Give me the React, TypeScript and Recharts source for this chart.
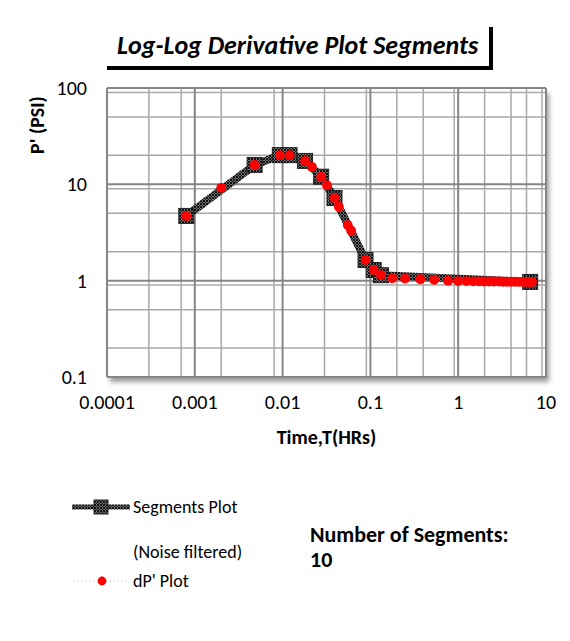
import { ScatterChart, Scatter, XAxis, YAxis, CartesianGrid } from 'recharts';

// segment nodes (noise filtered)
const segTime = [0.0008, 0.0048, 0.0093, 0.012, 0.018, 0.0275, 0.039, 0.088, 0.109, 0.132, 6.6];
const segDp = [4.7, 15.9, 20.1, 20.1, 17.5, 12.0, 7.2, 1.64, 1.29, 1.14, 0.97];

// dP' points
const dpTime = [0.0008, 0.002, 0.0048, 0.0093, 0.012, 0.018, 0.0215, 0.0275, 0.032, 0.039, 0.0437, 0.0552, 0.0604, 0.088, 0.109, 0.132, 0.177, 0.248, 0.37, 0.533, 0.764, 1.0, 1.24, 1.49, 1.73, 1.97, 2.25, 2.56, 2.92, 3.24, 3.6, 4.0, 4.44, 4.93, 5.48, 6.08, 6.58, 6.93];
const dpVal = [4.7, 9.2, 15.9, 20.1, 20.1, 17.5, 15.2, 12.0, 9.8, 7.2, 5.85, 3.78, 3.3, 1.64, 1.29, 1.14, 1.06, 1.05, 1.035, 1.02, 1.0, 0.99, 0.99, 0.985, 0.985, 0.98, 0.98, 0.98, 0.98, 0.975, 0.975, 0.975, 0.975, 0.97, 0.97, 0.97, 0.97, 0.97];

const xTicks = [0.0001, 0.001, 0.01, 0.1, 1, 10];
const xTickLabels = ['0.0001', '0.001', '0.01', '0.1', '1', '10'];
const yTicks = [0.1, 1, 10, 100];
const yTickLabels = ['0.1', '1', '10', '100'];
const minorSteps = [2, 3, 4, 5, 6, 7, 8, 9];

const xMinor = xTicks.slice(0, -1).flatMap((d) => minorSteps.map((m) => m * d));
const yMinor = yTicks.slice(0, -1).flatMap((d) => minorSteps.map((m) => m * d));

const segData = segTime.map((t, i) => ({ t, p: segDp[i] }));
const dpData = dpTime.map((t, i) => ({ t, p: dpVal[i] }));

const FONT = 'Carlito, Calibri, Lato, sans-serif';

const SquareDot = (props: any) => {
  const { cx, cy } = props;
  if (cx == null || cy == null) return null;
  return <rect x={cx - 7.5} y={cy - 7.5} width={15} height={15} fill="url(#hatch)" stroke="#222" strokeWidth={1} />;
};

const RedDot = (props: any) => {
  const { cx, cy } = props;
  if (cx == null || cy == null) return null;
  return <circle cx={cx} cy={cy} r={4.9} fill="#ff0000" />;
};

const txt = { position: 'absolute' as const, color: '#000', whiteSpace: 'nowrap' as const };

export default function App() {
  return (
    <div style={{ position: 'absolute', left: 0, top: 0, width: 570, height: 641, background: '#fff', fontFamily: FONT }}>
      {/* title box */}
      <div style={{ position: 'absolute', left: 107, top: 27, width: 382, height: 39, borderBottom: '4px solid #000', borderRight: '4px solid #000' }} />
      <div style={{ ...txt, left: 117, top: 29, fontSize: 26, lineHeight: '32px', fontWeight: 700, fontStyle: 'italic' }}>
        Log-Log Derivative Plot Segments
      </div>

      {/* plot area shadow */}
      <div style={{ position: 'absolute', left: 107, top: 88, width: 439, height: 289, background: '#fff', boxShadow: '3px 5px 5px rgba(0,0,0,0.4)' }} />

      <div style={{ position: 'absolute', left: 0, top: 0 }}>
        <ScatterChart width={570} height={460} margin={{ top: 88, right: 24, left: 0, bottom: 0 }}>
          <defs>
            <pattern id="hatch" width={3} height={3} patternUnits="userSpaceOnUse">
              <rect width={3} height={3} fill="#707070" />
              <path d="M0,0 L3,3 M3,0 L0,3" stroke="#111" strokeWidth={1} />
            </pattern>
          </defs>
          <CartesianGrid stroke="#a9a9a9" strokeWidth={1.5} verticalValues={xMinor} horizontalValues={yMinor} />
          <CartesianGrid stroke="#858585" strokeWidth={2} verticalValues={xTicks} horizontalValues={yTicks} />
          <XAxis
            dataKey="t"
            type="number"
            scale="log"
            domain={[0.0001, 10]}
            ticks={xTicks}
            tickFormatter={(v, i) => xTickLabels[i] ?? String(v)}
            allowDataOverflow
            axisLine={false}
            tickLine={false}
            tickSize={0}
            tickMargin={18}
            height={83}
            tick={{ fill: '#000', fontSize: 20, fontFamily: FONT }}
            label={(props: any) => {
              const vb = props.viewBox;
              return (
                <text x={vb.x + vb.width / 2} y={vb.y + 60} textAnchor="middle" dominantBaseline="central" fontSize={20} fontWeight={700} fill="#000" fontFamily={FONT}>
                  Time,T(HRs)
                </text>
              );
            }}
          />
          <YAxis
            dataKey="p"
            type="number"
            scale="log"
            domain={[0.1, 100]}
            ticks={yTicks}
            tickFormatter={(v, i) => yTickLabels[i] ?? String(v)}
            allowDataOverflow
            axisLine={false}
            tickLine={false}
            tickSize={0}
            tickMargin={20}
            width={107}
            tick={{ fill: '#000', fontSize: 20, fontFamily: FONT }}
            label={(props: any) => {
              const vb = props.viewBox;
              const x = 37;
              const y = vb.y + 37;
              return (
                <text x={x} y={y} transform={`rotate(-90 ${x} ${y})`} textAnchor="middle" dominantBaseline="central" fontSize={20} fontWeight={700} fill="#000" fontFamily={FONT}>
                  P' (PSI)
                </text>
              );
            }}
          />
          <Scatter
            name="Segments Plot"
            data={segData}
            line={{ stroke: 'url(#hatch)', strokeWidth: 8 }}
            lineType="joint"
            shape={SquareDot}
            isAnimationActive={false}
          />
          <Scatter name="dP' Plot" data={dpData} shape={RedDot} isAnimationActive={false} />
        </ScatterChart>
      </div>

      {/* legend */}
      <svg style={{ position: 'absolute', left: 68, top: 496 }} width={66} height={95}>
        <line x1={4} y1={11} x2={62} y2={11} stroke="url(#hatch)" strokeWidth={5} />
        <rect x={26} y={4} width={14} height={14} fill="url(#hatch)" stroke="#222" />
        <line x1={6} y1={85} x2={60} y2={85} stroke="#bbb" strokeWidth={1} strokeDasharray="1 3" />
        <circle cx={34} cy={85} r={4.4} fill="#ff0000" />
      </svg>
      <div style={{ ...txt, left: 133, top: 496, fontSize: 18, lineHeight: '22px' }}>Segments Plot</div>
      <div style={{ ...txt, left: 133, top: 541, fontSize: 18, lineHeight: '22px' }}>(Noise filtered)</div>
      <div style={{ ...txt, left: 133, top: 570, fontSize: 18, lineHeight: '22px' }}>dP' Plot</div>
      <div style={{ ...txt, left: 310, top: 522, fontSize: 22, fontWeight: 700, lineHeight: '25px' }}>
        Number of Segments:
        <br />
        10
      </div>
    </div>
  );
}
